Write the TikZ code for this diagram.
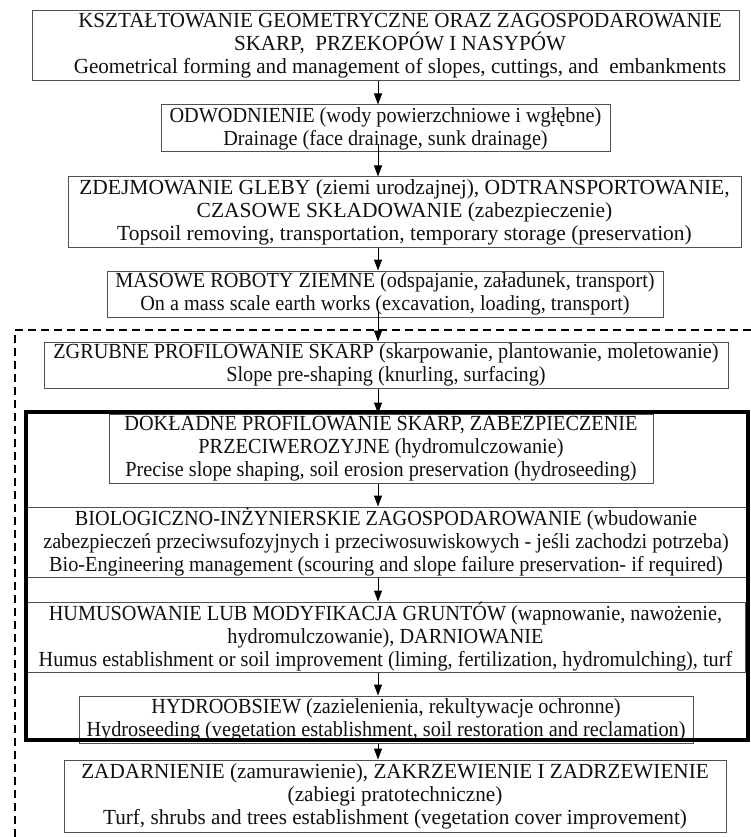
\documentclass[tikz,border=0pt]{standalone}
\usepackage{fontspec}
\setmainfont{Liberation Serif}[FakeStretch=0.942]
\newfontfamily\firstfont{Liberation Serif}[FakeStretch=0.98]
\newfontfamily\widefont{Liberation Serif}[FakeStretch=1.0]
\newfontfamily\lastfont{Liberation Serif}[FakeStretch=0.985]
\usetikzlibrary{arrows.meta,calc}
\definecolor{boxgray}{HTML}{505050}
\definecolor{textgray}{HTML}{111111}
\begin{document}
\begin{tikzpicture}[x=1pt,y=-1pt,
  box/.style={draw=boxgray, line width=1pt, inner sep=0pt, align=center,
    font=\fontsize{21.5}{23}\selectfont, text=textgray},
  label/.style={inner sep=0pt, align=center, font=\fontsize{21.5}{23}\selectfont, text=textgray},
  arr/.style={-{Triangle[width=8pt,length=11pt]}, line width=1pt, draw=black}]
\useasboundingbox (0,0) rectangle (751,837);
\fill[white] (0,0) rectangle (751,837);
\coordinate (ax) at (378,0);

\node[box, minimum width=707pt, minimum height=70pt] (b1) at (385.5,46) {};
\node[label, font=\firstfont\fontsize{21.5}{23}\selectfont] (b1t) at (400,46)
  {KSZTAŁTOWANIE GEOMETRYCZNE ORAZ ZAGOSPODAROWANIE\\ SKARP,\ \ PRZEKOPÓW I NASYPÓW\\ Geometrical forming and management of slopes, cuttings, and\ \ embankments};
\node[box, minimum width=449pt, minimum height=47pt] (b2) at (385.5,128.5)
  {ODWODNIENIE (wody powierzchniowe i wgłębne)\\ Drainage (face drainage, sunk drainage)};
\node[box, minimum width=673pt, minimum height=70pt, font=\widefont\fontsize{21.5}{23}\selectfont] (b3) at (404.5,212)
  {ZDEJMOWANIE GLEBY (ziemi urodzajnej), ODTRANSPORTOWANIE,\\ CZASOWE SKŁADOWANIE (zabezpieczenie)\\ Topsoil removing, transportation, temporary storage (preservation)};
\node[box, minimum width=556pt, minimum height=46pt] (b4) at (385,294)
  {MASOWE ROBOTY ZIEMNE (odspajanie, załadunek, transport)\\ On a mass scale earth works (excavation, loading, transport)};
\node[box, minimum width=684pt, minimum height=46pt] (b5) at (386,365)
  {ZGRUBNE PROFILOWANIE SKARP (skarpowanie, plantowanie, moletowanie)\\ Slope pre-shaping (knurling, surfacing)};
\node[box, minimum width=544pt, minimum height=69pt] (b6) at (381,448.5)
  {DOKŁADNE PROFILOWANIE SKARP, ZABEZPIECZENIE\\ PRZECIWEROZYJNE (hydromulczowanie)\\ Precise slope shaping, soil erosion preservation (hydroseeding)};
\node[box, minimum width=720pt, minimum height=70pt] (b7) at (386,542)
  {BIOLOGICZNO-INŻYNIERSKIE ZAGOSPODAROWANIE (wbudowanie\\ zabezpieczeń przeciwsufozyjnych i przeciwosuwiskowych - jeśli zachodzi potrzeba)\\ Bio-Engineering management (scouring and slope failure preservation- if required)};
\node[box, minimum width=719pt, minimum height=70pt] (b8) at (385.5,637)
  {HUMUSOWANIE LUB MODYFIKACJA GRUNTÓW (wapnowanie, nawożenie,\\ hydromulczowanie), DARNIOWANIE\\ Humus establishment or soil improvement (liming, fertilization, hydromulching), turf};
\node[box, minimum width=614pt, minimum height=47pt] (b9) at (386,719.5)
  {HYDROOBSIEW (zazielenienia, rekultywacje ochronne)\\ Hydroseeding (vegetation establishment, soil restoration and reclamation)};
\node[box, minimum width=662pt, minimum height=72pt, font=\lastfont\fontsize{21.5}{23}\selectfont] (b10) at (395,796)
  {ZADARNIENIE (zamurawienie), ZAKRZEWIENIE I ZADRZEWIENIE\\ (zabiegi pratotechniczne)\\ Turf, shrubs and trees establishment (vegetation cover improvement)};

\node[draw=black, line width=4pt, inner sep=0pt, minimum width=722pt, minimum height=328pt] (frame) at (387,576) {};
\draw[line width=1.5pt, dash pattern=on 8pt off 5pt] (751,330) -- (15,330) -- (15,837);

\draw[arr] (b1.south -| ax) -- (b2.north -| ax);
\draw[arr] ($(b2.south -| ax)+(0,-8)$) -- (b3.north -| ax);
\draw[arr] (b3.south -| ax) -- (b4.north -| ax);
\draw[arr] ($(b4.south -| ax)+(0,-6)$) -- (b5.north -| ax);
\draw[arr] (b5.south -| ax) -- (b6.north -| ax);
\draw[arr] (b6.south -| ax) -- (b7.north -| ax);
\draw[arr] (b7.south -| ax) -- (b8.north -| ax);
\draw[arr] (b8.south -| ax) -- (b9.north -| ax);
\draw[arr] (b9.south -| ax) -- (b10.north -| ax);
\end{tikzpicture}
\end{document}
